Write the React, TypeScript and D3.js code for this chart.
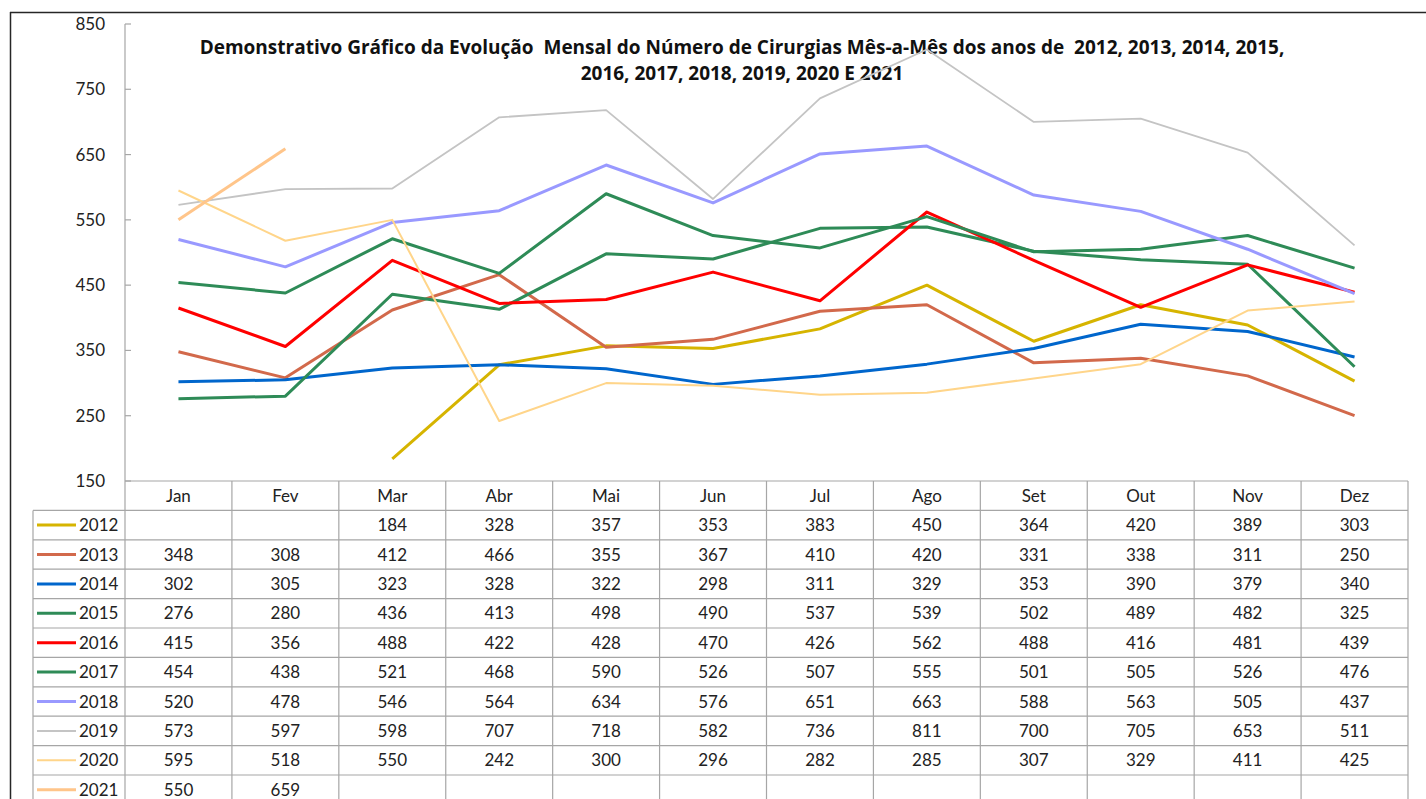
import React from "react";
import * as d3 from "d3";

// months shown in the data table
const months = ["Jan", "Fev", "Mar", "Abr", "Mai", "Jun", "Jul", "Ago", "Set", "Out", "Nov", "Dez"];
const yTicks = [150, 250, 350, 450, 550, 650, 750, 850];

const titleLines = [
  "Demonstrativo Gráfico da Evolução  Mensal do Número de Cirurgias Mês-a-Mês dos anos de  2012, 2013, 2014, 2015,",
  "2016, 2017, 2018, 2019, 2020 E 2021",
];

const years = ["2012", "2013", "2014", "2015", "2016", "2017", "2018", "2019", "2020", "2021"];

const v2012 = [null, null, 184, 328, 357, 353, 383, 450, 364, 420, 389, 303];
const v2013 = [348, 308, 412, 466, 355, 367, 410, 420, 331, 338, 311, 250];
const v2014 = [302, 305, 323, 328, 322, 298, 311, 329, 353, 390, 379, 340];
const v2015 = [276, 280, 436, 413, 498, 490, 537, 539, 502, 489, 482, 325];
const v2016 = [415, 356, 488, 422, 428, 470, 426, 562, 488, 416, 481, 439];
const v2017 = [454, 438, 521, 468, 590, 526, 507, 555, 501, 505, 526, 476];
const v2018 = [520, 478, 546, 564, 634, 576, 651, 663, 588, 563, 505, 437];
const v2019 = [573, 597, 598, 707, 718, 582, 736, 811, 700, 705, 653, 511];
const v2020 = [595, 518, 550, 242, 300, 296, 282, 285, 307, 329, 411, 425];
const v2021 = [550, 659, null, null, null, null, null, null, null, null, null, null];

const seriesValues = [v2012, v2013, v2014, v2015, v2016, v2017, v2018, v2019, v2020, v2021];
const colors = ["#D6B400", "#D2694B", "#0066CC", "#2E8B57", "#FF0000", "#2E8B57", "#9999FF", "#C4C4C4", "#FFD58A", "#FFC58A"];
const widths = [3, 3, 3, 3, 3, 3, 3, 1.8, 2, 3];

const font = "Lato, 'Open Sans', sans-serif";

export default function App() {
  const W = 1426, H = 799;
  const left = 125, right = 1408, top = 24, bottom = 481;
  const rowH = 29.4;
  const legendLeft = 33;

  const x = d3.scaleBand<string>().domain(months).range([left, right]).padding(0);
  const y = d3.scaleLinear().domain([150, 850]).range([bottom, top]);

  const line = d3
    .line<number | null>()
    .defined((d) => d != null)
    .x((_, i) => (x(months[i]) as number) + x.bandwidth() / 2)
    .y((d) => y(d as number));

  const headerBottom = bottom + rowH;
  const gridColor = "#A6A6A6";

  return (
    <svg width={W} height={H} style={{ position: "absolute", left: 0, top: 0, background: "#fff" }} fontFamily={font}>
      {/* outer frame */}
      <line x1={10.5} x2={10.5} y1={12} y2={H} stroke="#262626" strokeWidth={1.5} />
      <line x1={10} x2={W} y1={12.5} y2={12.5} stroke="#262626" strokeWidth={1.5} />

      {/* y axis */}
      <line x1={left} x2={left} y1={top} y2={H} stroke={gridColor} strokeWidth={1.2} />
      {yTicks.map((t) => (
        <g key={t}>
          <line x1={left} x2={left + 6} y1={y(t)} y2={y(t)} stroke={gridColor} strokeWidth={1.2} />
          <text x={105} y={y(t) + 6} textAnchor="end" fontSize={17} fill="#222">
            {t}
          </text>
        </g>
      ))}

      {/* title */}
      {titleLines.map((t, i) => (
        <text
          key={i}
          x={742}
          y={54 + i * 26}
          textAnchor="middle"
          fontSize={19}
          fontWeight="bold"
          fill="#111"
          fontFamily="'Open Sans', sans-serif"
          style={{ whiteSpace: "pre" }}
        >
          {t}
        </text>
      ))}

      {/* series */}
      {seriesValues.map((vals, i) => (
        <path key={years[i]} d={line(vals) || ""} fill="none" stroke={colors[i]} strokeWidth={widths[i]} strokeLinejoin="round" />
      ))}

      {/* data table */}
      <line x1={left} x2={right} y1={bottom} y2={bottom} stroke={gridColor} strokeWidth={1.2} />
      {months.map((m, i) => (
        <g key={m}>
          <line x1={(x(m) as number) + x.bandwidth()} x2={(x(m) as number) + x.bandwidth()} y1={bottom} y2={H} stroke={gridColor} strokeWidth={1.2} />
          <text x={(x(m) as number) + x.bandwidth() / 2} y={bottom + 21} textAnchor="middle" fontSize={17} fill="#222">
            {m}
          </text>
        </g>
      ))}
      <line x1={legendLeft} x2={legendLeft} y1={headerBottom} y2={H} stroke={gridColor} strokeWidth={1.2} />
      {years.map((yr, i) => {
        const r0 = headerBottom + i * rowH;
        const cy = r0 + rowH / 2;
        return (
          <g key={yr}>
            <line x1={legendLeft} x2={right} y1={r0} y2={r0} stroke={gridColor} strokeWidth={1.2} />
            <line x1={37} x2={76} y1={cy} y2={cy} stroke={colors[i]} strokeWidth={widths[i] === 3 ? 3 : 2} />
            <text x={79} y={cy + 6} fontSize={17} fill="#222">
              {yr}
            </text>
            {seriesValues[i].map((v, j) =>
              v == null ? null : (
                <text key={j} x={(x(months[j]) as number) + x.bandwidth() / 2} y={cy + 6} textAnchor="middle" fontSize={17} fill="#222">
                  {v}
                </text>
              )
            )}
          </g>
        );
      })}
    </svg>
  );
}
